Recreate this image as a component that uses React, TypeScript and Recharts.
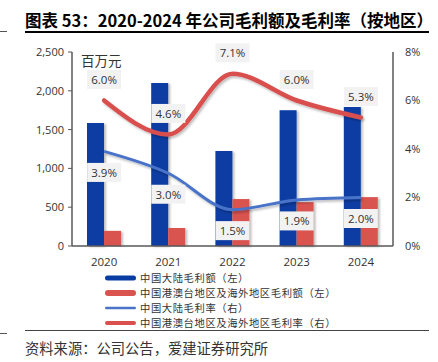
import { ComposedChart, Bar, Line, XAxis, YAxis, Legend } from 'recharts';

const years = ['2020', '2021', '2022', '2023', '2024'];
// 毛利额 (百万元)
const mainlandProfit = [1585, 2100, 1225, 1750, 1790];
const overseasProfit = [195, 232, 605, 565, 630];
// 毛利率 (%)
const mainlandRate = [3.9, 3.0, 1.5, 1.9, 2.0];
const overseasRate = [6.0, 4.6, 7.1, 6.0, 5.3];

const leftTicks = [0, 500, 1000, 1500, 2000, 2500];
const rightTicks = [0, 2, 4, 6, 8];

const BLUE_BAR = '#073CA3';
const RED_BAR = '#D9534F';
const BLUE_LINE = '#4A73C9';
const RED_LINE = '#D9504E';
const AXIS = '#595959';
const TEXT = '#333333';
const NUM_FONT = '"Open Sans", "Noto Sans CJK SC", sans-serif';
const CJK_FONT = '"Noto Sans CJK SC", sans-serif';

const data = years.map((year, i) => ({
  year,
  mainlandProfit: mainlandProfit[i],
  overseasProfit: overseasProfit[i],
  mainlandRate: mainlandRate[i],
  overseasRate: overseasRate[i],
}));

const legendItems = [
  { name: '中国大陆毛利额（左）', color: BLUE_BAR, h: 5 },
  { name: '中国港澳台地区及海外地区毛利额（左）', color: RED_BAR, h: 6 },
  { name: '中国大陆毛利率（右）', color: BLUE_LINE, h: 2.5 },
  { name: '中国港澳台地区及海外地区毛利率（右）', color: RED_LINE, h: 4 },
];

// gray boxed value label, shifted above or below the point
const makeLabel = (dy: number) => (props: any) => {
  const { x, y, value } = props;
  if (x == null || y == null) return null;
  const cy = y + dy;
  return (
    <g>
      <rect x={x - 17} y={cy - 9.5} width={34} height={19} fill="#F2F2F2" />
      <text
        x={x}
        y={cy}
        textAnchor="middle"
        dominantBaseline="central"
        fontSize={11.5}
        fontFamily={NUM_FONT}
        fill={TEXT}
      >
        {value.toFixed(1)}%
      </text>
    </g>
  );
};

const LegendContent = () => (
  <div style={{ fontFamily: CJK_FONT, fontSize: 10.3, letterSpacing: 0.6, color: TEXT }}>
    {legendItems.map((item) => (
      <div key={item.name} style={{ display: 'flex', alignItems: 'center', height: 15 }}>
        <svg width={36} height={10}>
          <rect
            x={1}
            y={5 - item.h / 2}
            width={31}
            height={item.h}
            rx={item.h / 2}
            fill={item.color}
          />
        </svg>
        <span style={{ lineHeight: '15px' }}>{item.name}</span>
      </div>
    ))}
  </div>
);

export default function App() {
  return (
    <div
      style={{
        position: 'absolute',
        left: 0,
        top: 0,
        width: 438,
        height: 362,
        background: '#fff',
        overflow: 'hidden',
      }}
    >
      {/* title */}
      <div
        style={{
          position: 'absolute',
          left: 25,
          top: 9,
          fontFamily: CJK_FONT,
          fontWeight: 'bold',
          fontSize: 16.5,
          color: '#000',
          whiteSpace: 'nowrap',
          lineHeight: '22px',
        }}
      >
        图表 53：2020-2024 年公司毛利额及毛利率（按地区）
      </div>
      <div style={{ position: 'absolute', left: 25, top: 31, width: 404, height: 2, background: '#000' }} />
      <div style={{ position: 'absolute', left: 0, top: 31, width: 7, height: 1, background: '#555' }} />

      <div style={{ position: 'absolute', left: 0, top: 0 }}>
        <ComposedChart
          width={438}
          height={362}
          data={data}
          margin={{ top: 52, right: 0, bottom: 86, left: 0 }}
          barGap={0}
        >
          <defs>
            <filter id="lineShadow" x="-10%" y="-30%" width="120%" height="160%">
              <feDropShadow dx="1.5" dy="2" stdDeviation="1.2" floodColor="#000" floodOpacity="0.25" />
            </filter>
            <filter id="barShadow" x="-20%" y="-5%" width="150%" height="110%">
              <feDropShadow dx="2" dy="1" stdDeviation="1" floodColor="#000" floodOpacity="0.25" />
            </filter>
          </defs>
          <XAxis
            dataKey="year"
            height={30}
            tickLine={false}
            axisLine={{ stroke: AXIS, strokeWidth: 1.5 }}
            tick={{ fontSize: 11.5, fontFamily: NUM_FONT, fill: TEXT }}
            tickMargin={6}
          />
          <YAxis
            yAxisId="left"
            width={72}
            domain={[0, 2500]}
            ticks={leftTicks}
            interval={0}
            tickFormatter={(v: number) => v.toLocaleString('en-US')}
            axisLine={{ stroke: AXIS, strokeWidth: 1.5 }}
            tickLine={{ stroke: AXIS }}
            tickSize={4}
            tickMargin={4}
            tick={{ fontSize: 11, fontFamily: NUM_FONT, fill: TEXT }}
          />
          <YAxis
            yAxisId="right"
            orientation="right"
            width={45}
            domain={[0, 8]}
            ticks={rightTicks}
            interval={0}
            tickFormatter={(v: number) => `${v}%`}
            axisLine={{ stroke: AXIS, strokeWidth: 1.5 }}
            tickLine={false}
            tickMargin={6}
            tick={{ fontSize: 11, fontFamily: NUM_FONT, fill: TEXT }}
          />
          <Bar
            yAxisId="left"
            dataKey="mainlandProfit"
            fill={BLUE_BAR}
            barSize={17}
            filter="url(#barShadow)"
            isAnimationActive={false}
          />
          <Bar
            yAxisId="left"
            dataKey="overseasProfit"
            fill={RED_BAR}
            barSize={17}
            filter="url(#barShadow)"
            isAnimationActive={false}
          />
          <Line
            yAxisId="right"
            type="monotone"
            dataKey="mainlandRate"
            stroke={BLUE_LINE}
            strokeWidth={3}
            dot={false}
            filter="url(#lineShadow)"
            label={makeLabel(21)}
            isAnimationActive={false}
          />
          <Line
            yAxisId="right"
            type="monotone"
            dataKey="overseasRate"
            stroke={RED_LINE}
            strokeWidth={4.5}
            strokeLinecap="round"
            dot={false}
            filter="url(#lineShadow)"
            label={makeLabel(-21)}
            isAnimationActive={false}
          />
          <text
            x={81}
            y={60}
            dominantBaseline="central"
            fontSize={13.5}
            fontFamily={CJK_FONT}
            fill={TEXT}
          >
            百万元
          </text>
          <Legend
            layout="vertical"
            align="center"
            verticalAlign="middle"
            content={<LegendContent />}
            wrapperStyle={{ top: 270, left: 104, width: 320 }}
          />
        </ComposedChart>
      </div>

      {/* source */}
      <div style={{ position: 'absolute', left: 25, top: 330, width: 404, height: 1, background: '#444' }} />
      <div style={{ position: 'absolute', left: 0, top: 333, width: 7, height: 1, background: '#555' }} />
      <div
        style={{
          position: 'absolute',
          left: 25,
          top: 338,
          fontFamily: CJK_FONT,
          fontSize: 14.3,
          color: TEXT,
          whiteSpace: 'nowrap',
          lineHeight: '20px',
        }}
      >
        资料来源：公司公告，爱建证券研究所
      </div>
    </div>
  );
}
